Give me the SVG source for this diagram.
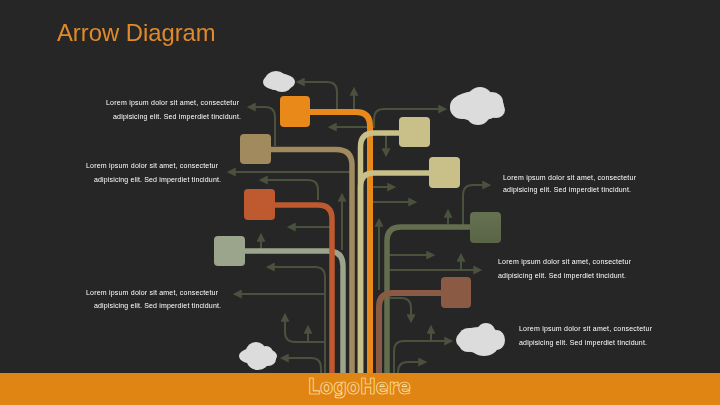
<svg xmlns="http://www.w3.org/2000/svg" width="720" height="405" viewBox="0 0 720 405">
<style>
.t{font-family:"Liberation Sans",Arial,sans-serif;font-size:7px;fill:#ffffff}
.a{fill:none;stroke:#4a513d;stroke-width:2;marker-end:url(#h)}
.b{fill:none;stroke-width:5.5}
.c{fill:#dcdcdc}
</style>
<defs>
<marker id="h" markerUnits="userSpaceOnUse" markerWidth="9" markerHeight="9" viewBox="0 0 8 8" refX="6" refY="4" orient="auto"><path d="M0 0L8 4L0 8Z" fill="#4a513d"/></marker>
<linearGradient id="gg" x1="0" y1="0" x2="0" y2="1"><stop offset="0" stop-color="#657150"/><stop offset="1" stop-color="#5a6548"/></linearGradient>
<filter id="gray" x="0" y="0" width="1" height="1"><feOffset dx="0" dy="0"/></filter>
</defs>
<rect width="720" height="405" fill="#262626"/>
<text x="57" y="41" font-family="Liberation Sans,Arial,sans-serif" font-size="23.8" fill="#e08a2a" filter="url(#gray)">Arrow Diagram</text>
<g id="connectors">
<g id="thin">
<path class="a" d="M337 110V92Q337 82 327 82H298"/>
<path class="a" d="M354 110V89"/>
<path class="a" d="M367 127H330"/>
<path class="a" d="M275 146V117Q275 107 265 107H249"/>
<path class="a" d="M374 128V119Q374 109 384 109H445"/>
<path class="a" d="M386 133V155"/>
<path class="a" d="M352 172H229"/>
<path class="a" d="M318 200V190Q318 180 308 180H261"/>
<path class="a" d="M342 250V195"/>
<path class="a" d="M373 187H394"/>
<path class="a" d="M373 202H415"/>
<path class="a" d="M463 225V195Q463 185 473 185H489"/>
<path class="a" d="M448 227V211"/>
<path class="a" d="M379 290V220"/>
<path class="a" d="M330 227H289"/>
<path class="a" d="M261 251V235"/>
<path class="a" d="M325 373V277Q325 267 315 267H268"/>
<path class="a" d="M325 294H235"/>
<path class="a" d="M325 342H295Q285 342 285 332V315"/>
<path class="a" d="M308 342V327"/>
<path class="a" d="M321 373V368Q321 358 311 358H282"/>
<path class="a" d="M387 255H433"/>
<path class="a" d="M387 270H480"/>
<path class="a" d="M461 270V255"/>
<path class="a" d="M390 298H401Q411 298 411 308V321"/>
<path class="a" d="M394 373V351Q394 341 404 341H451"/>
<path class="a" d="M431 341V327"/>
<path class="a" d="M398 373V372Q398 362 408 362H425"/>
</g>
<path class="b" d="M295 112H356Q370 112 370 126V375" stroke="#e8891a" style="stroke-width:6"/>
<path class="b" d="M255 149.5H336Q352 149.5 352 165V375" stroke="#a08a5e"/>
<path class="b" d="M230 251H328Q343 251 343 266V375" stroke="#9aa58c"/>
<path class="b" d="M260 205H318Q332 205 332 219V375" stroke="#bf5a30"/>
<path class="b" d="M415 133H374Q360.5 133 360.5 147V375" stroke="#c8c088"/>
<path class="b" d="M445 173H374Q360.5 173 360.5 187V375" stroke="#c8c088"/>
<path class="b" d="M485 227H401Q387 227 387 241V375" stroke="#636e4e"/>
<path class="b" d="M456 293H393Q379 293 379 307V375" stroke="#8a5a44" style="stroke-width:6"/>
</g>
<g id="node-orange"><rect x="280" y="96" width="30" height="31" rx="4" fill="#e8891a"/></g>
<g id="node-tan"><rect x="240" y="134" width="31" height="30" rx="4" fill="#a08a5e"/></g>
<g id="node-khaki1"><rect x="399" y="117" width="31" height="30" rx="4" fill="#c8c088"/></g>
<g id="node-khaki2"><rect x="429" y="157" width="31" height="31" rx="4" fill="#c8c088"/></g>
<g id="node-rust"><rect x="244" y="189" width="31" height="31" rx="4" fill="#bf5a30"/></g>
<g id="node-green"><rect x="470" y="212" width="31" height="31" rx="4" fill="url(#gg)"/></g>
<g id="node-sage"><rect x="214" y="236" width="31" height="30" rx="4" fill="#9aa58c"/></g>
<g id="node-brown"><rect x="441" y="277" width="30" height="31" rx="4" fill="#8a5a44"/></g>
<g id="cloud1" class="c"><ellipse cx="279" cy="82" rx="16" ry="8.5"/><ellipse cx="276" cy="80.5" rx="11" ry="9.5"/><ellipse cx="282" cy="84" rx="10" ry="8"/></g>
<g id="cloud2" class="c"><ellipse cx="477" cy="106" rx="27" ry="15"/><ellipse cx="462" cy="108" rx="12" ry="11"/><circle cx="480" cy="100" r="13"/><ellipse cx="492" cy="102" rx="11" ry="10"/><ellipse cx="496" cy="110" rx="9" ry="8"/><ellipse cx="478" cy="114" rx="12" ry="11"/></g>
<g id="cloud3" class="c"><ellipse cx="480" cy="340" rx="24" ry="13"/><ellipse cx="469" cy="336" rx="10" ry="8"/><ellipse cx="486" cy="334" rx="10" ry="11"/><ellipse cx="497" cy="340" rx="8" ry="10"/><ellipse cx="484" cy="346" rx="14" ry="10"/><ellipse cx="468" cy="344" rx="9" ry="8"/></g>
<g id="cloud4" class="c"><ellipse cx="258" cy="356" rx="19" ry="9"/><ellipse cx="256" cy="351" rx="10" ry="9"/><ellipse cx="266" cy="353" rx="7" ry="7"/><ellipse cx="258" cy="361" rx="11" ry="9"/><ellipse cx="268" cy="359" rx="8" ry="7"/></g>
<g id="labels" filter="url(#gray)">
<text class="t" x="106" y="105" textLength="133">Lorem ipsum dolor sit amet, consectetur</text>
<text class="t" x="113" y="119" textLength="128">adipisicing elit. Sed imperdiet tincidunt.</text>
<text class="t" x="86" y="168" textLength="132">Lorem ipsum dolor sit amet, consectetur</text>
<text class="t" x="94" y="182" textLength="127">adipisicing elit. Sed imperdiet tincidunt.</text>
<text class="t" x="503" y="180" textLength="133">Lorem ipsum dolor sit amet, consectetur</text>
<text class="t" x="503" y="192" textLength="128">adipisicing elit. Sed imperdiet tincidunt.</text>
<text class="t" x="498" y="264" textLength="133">Lorem ipsum dolor sit amet, consectetur</text>
<text class="t" x="498" y="278" textLength="128">adipisicing elit. Sed imperdiet tincidunt.</text>
<text class="t" x="86" y="295" textLength="132">Lorem ipsum dolor sit amet, consectetur</text>
<text class="t" x="94" y="308" textLength="127">adipisicing elit. Sed imperdiet tincidunt.</text>
<text class="t" x="519" y="331" textLength="133">Lorem ipsum dolor sit amet, consectetur</text>
<text class="t" x="519" y="345" textLength="128">adipisicing elit. Sed imperdiet tincidunt.</text>
</g>
<rect id="bar" y="373" width="720" height="32" fill="#e08514"/>
<text x="308" y="394" font-family="DejaVu Sans,Verdana,sans-serif" font-weight="bold" font-size="21" fill="#e08514" stroke="#fff2c4" stroke-width="0.7" textLength="103" lengthAdjust="spacingAndGlyphs">LogoHere</text>
</svg>
